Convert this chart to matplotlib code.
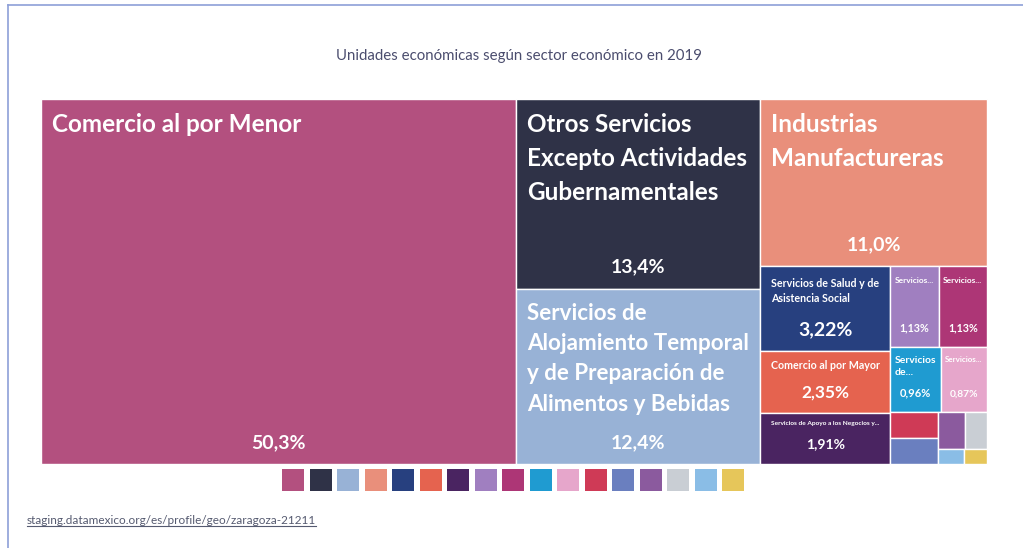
import matplotlib
matplotlib.use("Agg")
import matplotlib.pyplot as plt
import matplotlib.patches as patches

plt.rcParams['font.family'] = ['Lato', 'DejaVu Sans']

title = "Unidades económicas según sector económico en 2019"
source = "staging.datamexico.org/es/profile/geo/zaragoza-21211"

labels = [
    "Comercio al por Menor",
    "Otros Servicios\nExcepto Actividades\nGubernamentales",
    "Servicios de\nAlojamiento Temporal\ny de Preparación de\nAlimentos y Bebidas",
    "Industrias\nManufactureras",
    "Servicios de Salud y de\nAsistencia Social",
    "Comercio al por Mayor",
    "Servicios de Apoyo a los Negocios y...",
    "Servicios...",
    "Servicios...",
    "Servicios\nde...",
    "Servicios...",
    "", "", "", "", "", "",
]
shares = [50.3, 13.4, 12.4, 11.0, 3.22, 2.35, 1.91, 1.13, 1.13, 0.96, 0.87,
          0.36, 0.35, 0.29, 0.24, 0.11, 0.10]
colors = ['#b3507f', '#2f3247', '#98b2d6', '#e98f7b', '#27407f', '#e5634f',
          '#4a2461', '#a07fc0', '#ad3676', '#1f9bd1', '#e6a6cb', '#cf3a56',
          '#6a7fbf', '#8b5a9e', '#c9ced4', '#8abde6', '#e6c65a']


def squarify(values, x0, y0, x1, y1, ratio=(1 + 5 ** 0.5) / 2):
    # port of d3.treemapSquarify
    rects = []
    total = sum(values)
    i0, n = 0, len(values)
    while i0 < n:
        dx, dy = x1 - x0, y1 - y0
        s = values[i0]
        i1 = i0 + 1
        vmin = vmax = s
        alpha = max(dy / dx, dx / dy) / (total * ratio)
        beta = s * s * alpha
        best = max(vmax / beta, beta / vmin)
        while i1 < n:
            v = values[i1]
            beta = (s + v) ** 2 * alpha
            r = max(max(vmax, v) / beta, beta / min(vmin, v))
            if r > best:
                break
            s += v
            vmin, vmax, best = min(vmin, v), max(vmax, v), r
            i1 += 1
        row = values[i0:i1]
        if dx < dy:
            h = dy * s / total
            cx = x0
            for v in row:
                w = dx * v / s
                rects.append((cx, y0, w, h))
                cx += w
            y0 += h
        else:
            w = dx * s / total
            cy = y0
            for v in row:
                h = dy * v / s
                rects.append((x0, cy, w, h))
                cy += h
            x0 += w
        total -= s
        i0 = i1
    return rects


fig = plt.figure(figsize=(10.23, 5.48), dpi=100)
ax = fig.add_axes([0, 0, 1, 1])
ax.set_xlim(0, 1023)
ax.set_ylim(548, 0)
ax.axis('off')
renderer = fig.canvas.get_renderer()


def fit_size(txt, max_pt, max_w, **kw):
    t = ax.text(0, 0, txt, fontsize=10, **kw)
    bb = t.get_window_extent(renderer)
    t.remove()
    return min(max_pt, 10 * max_w / max(bb.width, 1))


# page frame
ax.plot([8, 1023], [5, 5], color='#8ea0d8', lw=1.2)
ax.plot([8, 8], [5, 548], color='#8ea0d8', lw=1.2)

ax.text(519, 56, title, ha='center', va='center', fontsize=10.8, color='#4b4d6e')

rects = squarify(shares, 41, 99, 987, 464)
for (x, y, w, h), lab, val, col in zip(rects, labels, shares, colors):
    ax.add_patch(patches.Rectangle((x, y), w, h, facecolor=col,
                                   edgecolor='white', lw=1))
    pad = min(11, w * 0.09)
    if lab:
        fs = fit_size(lab, 17.5, w - 2 * pad, weight='bold')
        ls = 1.35 + 0.22 * fs / 17.5
        ax.text(x + pad, y + min(14, h * 0.14), lab, ha='left', va='top',
                fontsize=fs, color='white', weight='bold', linespacing=ls)
    if w >= 30 and h >= 40:
        pct = (f"{val:.1f}" if val >= 10 else f"{val:.2f}").replace('.', ',') + '%'
        fs = min(fit_size(pct, 14, w * 0.62, weight='bold'), h * 0.2)
        ax.text(x + w / 2, y + h - 16, pct, ha='center', va='baseline',
                fontsize=fs, color='white', weight='bold')

# legend swatches
pitch, size = 27.5, 22
start = 513 - (len(colors) * pitch - (pitch - size)) / 2
for i, col in enumerate(colors):
    ax.add_patch(patches.Rectangle((start + i * pitch, 469), size, size,
                                   facecolor=col, edgecolor='none'))

src = ax.text(27, 524, source, ha='left', va='baseline', fontsize=8.5,
              color='#555a70')
bb = src.get_window_extent(renderer)
ax.plot([27, 27 + bb.width], [526, 526], color='#555a70', lw=0.8)

plt.savefig('out.png', dpi=100)
